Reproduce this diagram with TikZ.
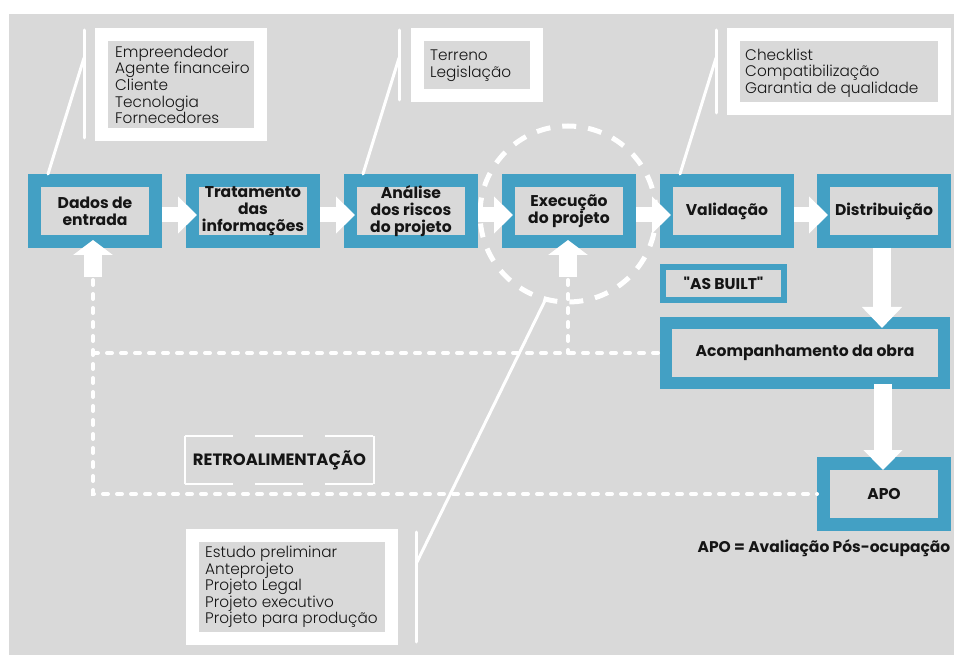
\documentclass[tikz,border=0pt]{standalone}
\usepackage{fontspec}
\setmainfont{Poppins}
\newfontfamily\rawfont{Poppins}[Ligatures=TeXOff]
\newfontfamily\lightfont{Poppins Light}
\usetikzlibrary{arrows.meta}
\definecolor{bg}{HTML}{D9D9D9}
\definecolor{bl}{HTML}{43A0C4}
\definecolor{tx}{HTML}{151515}
\begin{document}
\begin{tikzpicture}[x=1pt,y=-1pt,
  stepbox/.style={draw=bl, fill=bg, line width=13pt, minimum width=121pt, minimum height=61pt,
    inner sep=0pt, align=center, text=tx, font=\fontsize{15.6}{17}\selectfont\bfseries},
  callbox/.style={draw=white, fill=bg, line width=13pt, inner sep=0pt},
  calltext/.style={anchor=west, align=left, inner sep=0pt, text=tx, font=\lightfont\fontsize{15.3}{16.6}\selectfont},
  bar/.style={white, line width=3pt, line cap=round},
  flowh/.style={white, line width=15pt, -{Triangle[width=36pt,length=19pt]}},
  flowv/.style={white, line width=18pt, -{Triangle[width=39pt,length=17pt]}},
  fbline/.style={white, line width=4pt, line cap=round, dash pattern=on 5pt off 9pt},
]
\useasboundingbox (0,0) rectangle (954,655);
\fill[white] (0,0) rectangle (954,655);
\fill[bg] (9,14) rectangle (954,655);

% dashed circle around Execucao
\node[circle, draw=white, line width=5pt, dash pattern=on 14pt off 12pt, minimum size=176pt, inner sep=0pt] (circ) at (568,214) {};

% main flow boxes
\node[stepbox] (d1) at (95,211) {Dados de\\entrada};
\node[stepbox] (d2) at (253,211) {Tratamento\\das\\informações};
\node[stepbox] (d3) at (411,211) {Análise\\dos riscos\\do projeto};
\node[stepbox] (d4) at (569,211) {Execução\\do projeto};
\node[stepbox] (d5) at (727,211) {Validação};
\node[stepbox] (d6) at (884,211) {Distribuição};

\node[stepbox, line width=6pt, minimum width=121pt, minimum height=33pt] (asb) at (723.5,283.5) {{\rawfont\bfseries"}AS BUILT{\rawfont\bfseries"}};
\node[stepbox, line width=12pt, minimum width=278pt, minimum height=60pt] (acomp) at (805,353) {Acompanhamento da obra};
\node[stepbox, minimum width=121pt, minimum height=61pt] (apo) at (884,494) {APO};
\node[text=tx, inner sep=0pt, font=\fontsize{15.5}{17}\selectfont\bfseries] (apon) at (824,548) {APO = Avaliação Pós-ocupação};

% feedback dashed lines
\coordinate (ua1) at (93,280);
\coordinate (ua2) at (568,280);
\draw[fbline] (ua1) -- (ua1 |- apo.west) -- (apo.west);
\draw[fbline] (ua1 |- acomp.west) -- (acomp.west);
\draw[fbline] (ua2) -- (ua2 |- acomp.west);

% retroalimentacao label
\node[minimum width=189pt, minimum height=48pt, inner sep=0pt, text=tx, font=\fontsize{16.4}{17}\selectfont\bfseries] (retro) at (279.5,460) {RETROALIMENTAÇÃO};
\draw[white, line width=2.5pt, dash pattern=on 48pt off 22pt] (retro.north west) -- (retro.north east);
\draw[white, line width=2.5pt, dash pattern=on 48pt off 22pt] (retro.south west) -- (retro.south east);
\draw[white, line width=2.5pt] (retro.north west) -- (retro.south west);
\draw[white, line width=2.5pt] (retro.north east) -- (retro.south east);

% horizontal flow arrows
\draw[flowh] ([yshift=-4pt]d1.east) -- ([xshift=11pt,yshift=-4pt]d2.west);
\draw[flowh] ([yshift=-4pt]d2.east) -- ([xshift=11pt,yshift=-4pt]d3.west);
\draw[flowh] ([yshift=-4pt]d3.east) -- ([xshift=11pt,yshift=-4pt]d4.west);
\draw[flowh] ([yshift=-4pt]d4.east) -- ([xshift=11pt,yshift=-4pt]d5.west);
\draw[flowh] ([yshift=-4pt]d5.east) -- ([xshift=11pt,yshift=-4pt]d6.west);

% up arrows (feedback)
\draw[flowv, -{Triangle[width=39pt,length=15pt]}] ([yshift=3pt]ua1) -- ([xshift=-2pt,yshift=8pt]d1.south);
\draw[flowv, -{Triangle[width=39pt,length=15pt]}] ([yshift=3pt]ua2) -- ([xshift=-1pt,yshift=8pt]d4.south);

% down arrows
\draw[flowv, -{Triangle[width=39pt,length=21pt]}] ([xshift=-2pt]d6.south) -- ([xshift=77pt,yshift=-11pt]acomp.north);
\draw[flowv, -{Triangle[width=38pt,length=20pt]}] ([xshift=78pt,yshift=5pt]acomp.south) -- ([xshift=-1pt,yshift=-13pt]apo.north);

% callouts
\node[callbox, minimum width=159pt, minimum height=100pt] (c1) at (181,84.5) {};
\node[calltext] (t1) at (115,85) {Empreendedor\\Agente financeiro\\Cliente\\Tecnologia\\Fornecedores};
\node[callbox, minimum width=119pt, minimum height=61pt] (c2) at (477,65) {};
\node[calltext] (t2) at (430,66) {Terreno\\Legislação};
\node[callbox, minimum width=211pt, minimum height=74pt] (c3) at (839,71.5) {};
\node[calltext] (t3) at (745,73) {Checklist\\Compatibilização\\Garantia de qualidade};
\node[callbox, minimum width=199pt, minimum height=103pt] (c4) at (292,587) {};
\node[calltext] (t4) at (205,587) {Estudo preliminar\\Anteprojeto\\Projeto Legal\\Projeto executivo\\Projeto para produção};

% callout brackets
\coordinate (b1t) at (84,30); \coordinate (b1b) at (84,138); \coordinate (k1) at (84,58);
\coordinate (b2t) at (399,30); \coordinate (b2b) at (399,100); \coordinate (k2) at (399,58);
\coordinate (b3t) at (716,30); \coordinate (b3b) at (716,113); \coordinate (k3) at (716,58);
\coordinate (b4t) at (416,532); \coordinate (b4b) at (416,642); \coordinate (k4) at (417,562);
\draw[bar] (b1t) -- (b1b);
\draw[bar] (b2t) -- (b2b);
\draw[bar] (b3t) -- (b3b);
\draw[bar] (b4t) -- (b4b);
\draw[bar] (k1) -- ([xshift=20pt]d1.north west);
\draw[bar] (k2) -- ([xshift=19pt]d3.north west);
\draw[bar] (k3) -- ([xshift=20pt]d5.north west);
\draw[bar] (k4) -- (circ.-105);
\end{tikzpicture}
\end{document}
